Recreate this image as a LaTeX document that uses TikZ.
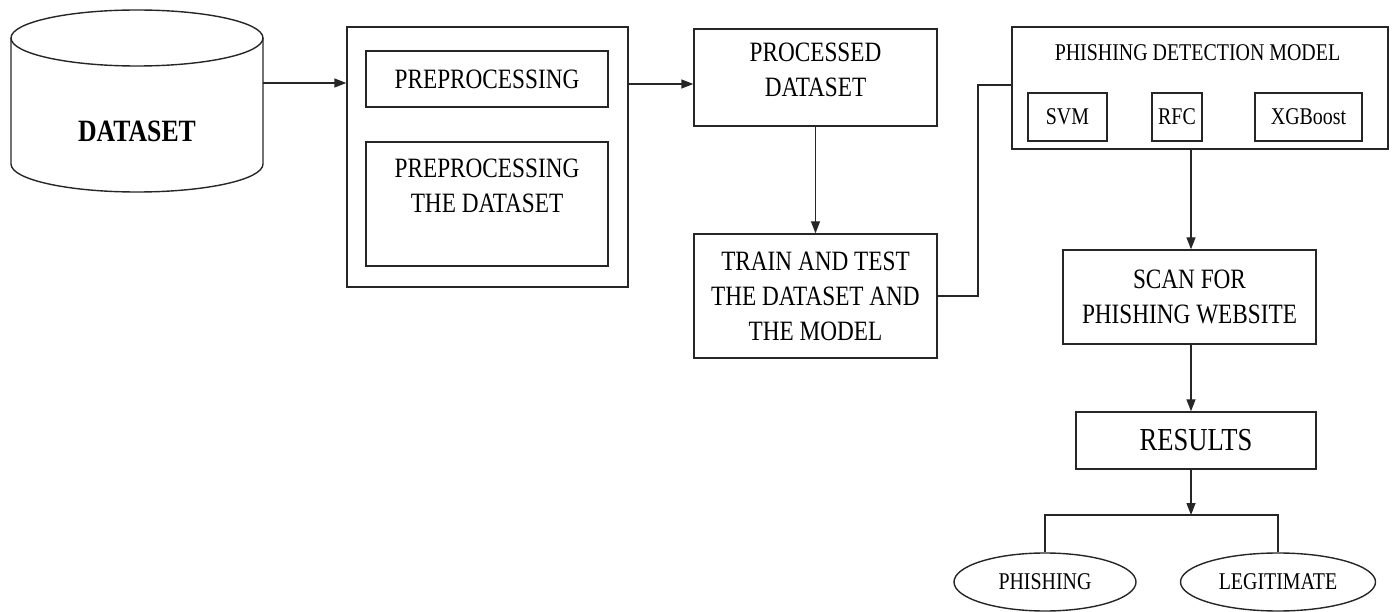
\documentclass[tikz,border=0pt]{standalone}
\usepackage{fontspec}
\setmainfont{Liberation Serif}[FakeStretch=0.83]
\usetikzlibrary{arrows.meta,shapes.geometric,calc}

\newcommand\fbody{\fontsize{28}{35}\selectfont}
\newcommand\fsmall{\fontsize{24}{28}\selectfont}
\newcommand\fbig{\fontsize{32}{36}\selectfont}

\tikzset{
  box/.style={draw=black!85, rectangle, line width=1.4pt, inner sep=0pt, align=center},
  txt/.style={inner sep=0pt, align=center},
  oval/.style={draw=black!85, ellipse, line width=1.4pt, inner sep=0pt, font=\fsmall},
  conn/.style={draw=black!85, line width=1.4pt},
  arr/.style={conn, -{Triangle[length=12pt,width=9pt]}},
}

\begin{document}
\begin{tikzpicture}[x=1pt,y=-1pt]
\useasboundingbox (0,0) rectangle (1393,612);

% database cylinder
\draw[conn] (137,38) ellipse[x radius=126, y radius=28];
\draw[conn] (11,38) -- (11,164)
  arc[start angle=180, end angle=0, x radius=126, y radius=28] -- (263,38);
\node[txt, font=\fontsize{31}{36}\selectfont\bfseries] (db) at (137,131) {DATASET};
\coordinate (dbR) at (263,83);

% preprocessing block
\node[box, minimum width=281, minimum height=260] (outer) at (487.5,157) {};
\node[box, minimum width=242, minimum height=56, font=\fbody] (pre1) at (487,79) {PREPROCESSING};
\node[box, minimum width=242, minimum height=124] (pre2) at (487,204) {};
\node[txt, font=\fbody] (pre2t) at (487,185.5) {PREPROCESSING\\THE DATASET};

% processed data and training
\node[box, minimum width=243, minimum height=97] (proc) at (815.5,77.5) {};
\node[txt, font=\fbody] (proct) at (815.5,70) {PROCESSED\\DATASET};
\node[box, minimum width=243, minimum height=124, font=\fbody] (train) at (815.5,296)
  {TRAIN AND TEST\\THE DATASET AND\\THE MODEL};

% detection model with its classifiers
\node[box, minimum width=376, minimum height=122] (model) at (1200,88) {};
\node[txt, font=\fsmall] (modelt) at (1197.5,52.5) {PHISHING DETECTION MODEL};
\node[box, minimum width=79, minimum height=48, font=\fsmall] (svm) at (1067.5,117) {SVM};
\node[box, minimum width=50, minimum height=48, font=\fsmall] (rfc) at (1177,117) {RFC};
\node[box, minimum width=107, minimum height=48, font=\fsmall] (xgb) at (1308.5,117) {XGBoost};

% scanning and results
\node[box, minimum width=253, minimum height=94, font=\fbody] (scan) at (1189.5,297)
  {SCAN FOR\\PHISHING WEBSITE};
\node[box, minimum width=240, minimum height=57, font=\fbig] (res) at (1196,440.5) {RESULTS};
\node[oval, minimum width=182, minimum height=58] (phish) at (1045,582) {PHISHING};
\node[oval, minimum width=195, minimum height=58] (legit) at (1278,582) {LEGITIMATE};

% connectors
\coordinate (a2) at (0,84);
\coordinate (k1) at (978,85);
\coordinate (ax) at (1191,0);
\coordinate (jn) at (1191,515);

\draw[arr] (dbR) -- (dbR -| outer.west);
\draw[arr] (outer.east |- a2) -- (proc.west |- a2);
\draw[arr] (proc.south) -- (train.north);
\draw[conn] (train.east) -| (k1) -- (k1 -| model.west);
\draw[arr] (model.south -| ax) -- (scan.north -| ax);
\draw[arr] (scan.south -| ax) -- (res.north -| ax);
\draw[arr] (res.south -| ax) -- (jn);
\draw[conn] (phish.north) -- (phish.north |- jn) -- (legit.north |- jn) -- (legit.north);
\end{tikzpicture}
\end{document}
